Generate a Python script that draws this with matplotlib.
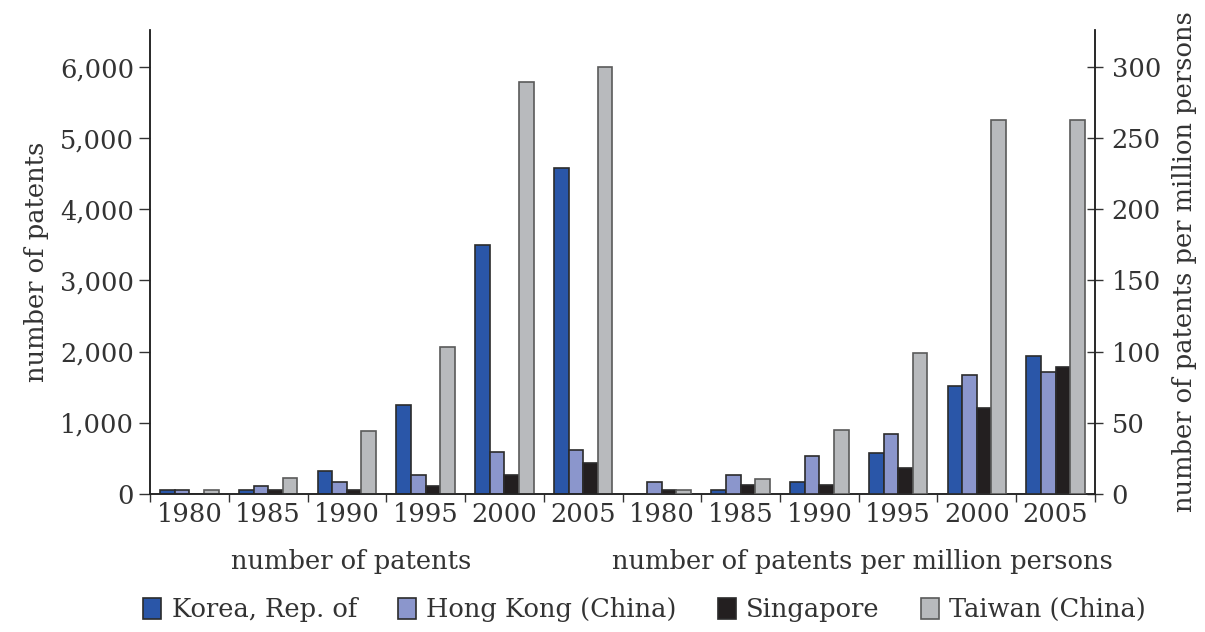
import numpy as np
import matplotlib
matplotlib.use("Agg")
import matplotlib.pyplot as plt
from matplotlib.patches import Patch

years = ["1980", "1985", "1990", "1995", "2000", "2005"]
economies = ["Korea, Rep. of", "Hong Kong (China)", "Singapore", "Taiwan (China)"]

# number of patents
patents_korea = [60, 50, 320, 1250, 3500, 4580]
patents_hk = [60, 115, 165, 265, 590, 620]
patents_sing = [0, 55, 60, 110, 265, 435]
patents_taiwan = [60, 220, 880, 2065, 5790, 6000]

# number of patents per million persons
permil_korea = [0, 3, 8.4, 29, 76, 97]
permil_hk = [8.4, 13, 26.7, 42, 83.5, 86]
permil_sing = [3, 6, 6, 18, 60.7, 89.5]
permil_taiwan = [3, 10.5, 45, 99, 263, 263]

colors = ["#2a56a8", "#8b96cc", "#231f20", "#b8babd"]
edges = ["#2b2b2b", "#2b2b2b", "#2b2b2b", "#5a5a5a"]
text_color = "#333333"

plt.rcParams["font.family"] = ["DejaVu Serif"]
plt.rcParams["font.size"] = 18.5
plt.rcParams["text.color"] = text_color
plt.rcParams["axes.labelcolor"] = text_color
plt.rcParams["xtick.color"] = text_color
plt.rcParams["ytick.color"] = text_color

fig = plt.figure(figsize=(12.05, 6.32), dpi=100)
ax = fig.add_axes([0.1245, 0.2184, 0.7842, 0.7341])
ax2 = ax.twinx()

n = len(years)
width = 0.185
offsets = (np.arange(4) - 1.5) * width
left_x = np.arange(n) + 0.5
right_x = np.arange(n) + n + 0.5

left_series = [patents_korea, patents_hk, patents_sing, patents_taiwan]
right_series = [permil_korea, permil_hk, permil_sing, permil_taiwan]

for k in range(4):
    ax.bar(left_x + offsets[k], left_series[k], width, color=colors[k],
           edgecolor=edges[k], linewidth=1.2, zorder=3)
    ax2.bar(right_x + offsets[k], right_series[k], width, color=colors[k],
            edgecolor=edges[k], linewidth=1.2, zorder=3)

ax.set_xlim(0, 2 * n)
ax.set_ylim(0, 6520)
ax2.set_ylim(0, 326)

ax.set_yticks(range(0, 6001, 1000))
ax.set_yticklabels([f"{v:,}" for v in range(0, 6001, 1000)])
ax2.set_yticks(range(0, 301, 50))

ax.set_xticks(np.concatenate([left_x, right_x]))
ax.set_xticklabels(years + years)
ax.set_xticks(np.arange(0, 2 * n + 1), minor=True)
ax.tick_params(axis="x", which="major", length=0, pad=6)
ax.tick_params(axis="x", which="minor", length=6, width=1, direction="out")
ax.tick_params(axis="y", length=8, width=1, direction="out")
ax2.tick_params(axis="y", length=12, width=1, direction="inout", pad=6)

for a in (ax, ax2):
    a.spines["top"].set_visible(False)
    for s in ("left", "right", "bottom"):
        a.spines[s].set_color("#222222")
        a.spines[s].set_linewidth(1.1)

ax.set_ylabel("number of patents", labelpad=8)
ax2.set_ylabel("number of patents per million persons", labelpad=8)

ax.text(n / 2 - 0.45, -0.145, "number of patents", transform=ax.get_xaxis_transform(),
        ha="center", va="center")
ax.text(n + n / 2 + 0.05, -0.145, "number of patents per million persons",
        transform=ax.get_xaxis_transform(), ha="center", va="center")

handles = [Patch(facecolor=c, edgecolor=e, linewidth=1.2) for c, e in zip(colors, edges)]
fig.legend(handles, economies, loc="center", bbox_to_anchor=(0.535, 0.035), ncol=4,
           frameon=False, handlelength=0.7, handleheight=0.9, handletextpad=0.4,
           columnspacing=1.6)

fig.savefig("out.png", dpi=100)
